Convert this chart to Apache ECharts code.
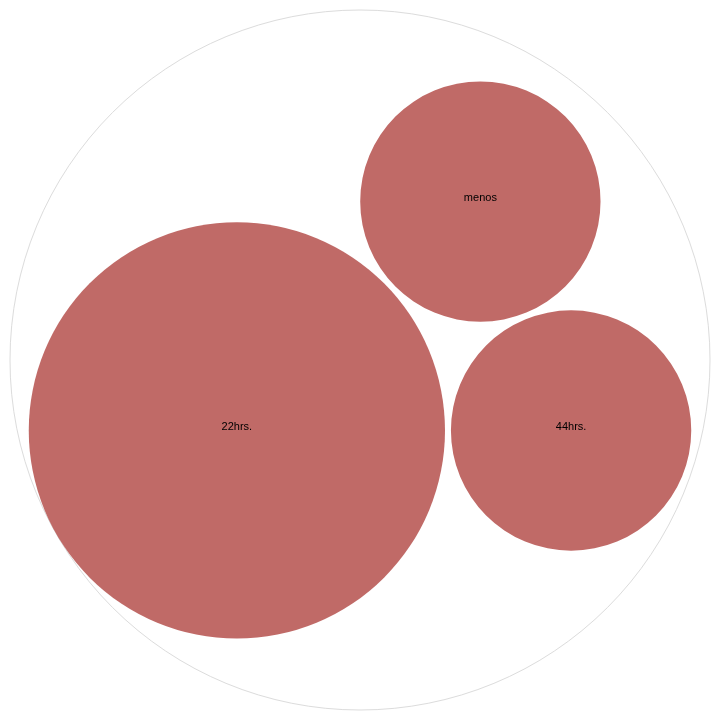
<!DOCTYPE html>
<html>
<head>
<meta charset="utf-8">
<script src="https://cdn.jsdelivr.net/npm/echarts@6/dist/echarts.min.js"></script>
<style>html,body{margin:0;padding:0;background:#fff;}#c{width:720px;height:720px;}</style>
</head>
<body>
<div id="c"></div>
<script>
// ---- data ----
var labels = ['22hrs.', '44hrs.', 'menos'];
var values = [3, 1, 1];

// ---- circle-packing layout (d3 v3 style) computed from the values ----
var SIZE = 700, PADDING = 6;
function packPlace(a, b, c) {
  var db = a.r + c.r, dx = b.x - a.x, dy = b.y - a.y;
  if (db && (dx || dy)) {
    var da = b.r + c.r, dc = dx * dx + dy * dy;
    da *= da; db *= db;
    var x = 0.5 + (db - da) / (2 * dc),
        y = Math.sqrt(Math.max(0, 2 * da * (db + dc) - (db -= dc) * db - da * da)) / (2 * dc);
    c.x = a.x + x * dx + y * dy;
    c.y = a.y + x * dy - y * dx;
  } else { c.x = a.x + db; c.y = a.y; }
}
function packIntersects(a, b) { var dx = b.x - a.x, dy = b.y - a.y, dr = a.r + b.r; return 0.999 * dr * dr > dx * dx + dy * dy; }
function packInsert(a, b) { var c = a._n; a._n = b; b._p = a; b._n = c; c._p = b; }
function packSplice(a, b) { a._n = b; b._p = a; }
function packSiblings(node) {
  var nodes = node.children, n = nodes.length, a, b, c, i, j, k;
  var xMin = Infinity, xMax = -Infinity, yMin = Infinity, yMax = -Infinity;
  function bound(d) {
    xMin = Math.min(d.x - d.r, xMin); xMax = Math.max(d.x + d.r, xMax);
    yMin = Math.min(d.y - d.r, yMin); yMax = Math.max(d.y + d.r, yMax);
  }
  nodes.forEach(function (d) { d._n = d._p = d; });
  a = nodes[0]; a.x = -a.r; a.y = 0; bound(a);
  if (n > 1) {
    b = nodes[1]; b.x = b.r; b.y = 0; bound(b);
    if (n > 2) {
      c = nodes[2]; packPlace(a, b, c); bound(c);
      packInsert(a, c); a._p = c; packInsert(c, b); b = a._n;
      for (i = 3; i < n; i++) {
        packPlace(a, b, c = nodes[i]);
        var isect = 0, s1 = 1, s2 = 1;
        for (j = b._n; j !== b; j = j._n, s1++) { if (packIntersects(j, c)) { isect = 1; break; } }
        if (isect) { for (k = a._p; k !== j._p; k = k._p, s2++) { if (packIntersects(k, c)) break; } }
        if (isect) {
          if (s1 < s2 || (s1 === s2 && b.r < a.r)) packSplice(a, b = j); else packSplice(a = k, b);
          i--;
        } else { packInsert(a, c); b = c; bound(c); }
      }
    }
  }
  var cx = (xMin + xMax) / 2, cy = (yMin + yMax) / 2, cr = 0;
  for (i = 0; i < n; i++) {
    c = nodes[i]; c.x -= cx; c.y -= cy;
    cr = Math.max(cr, c.r + Math.sqrt(c.x * c.x + c.y * c.y));
  }
  node.r = cr;
}
var leaves = labels.map(function (l, i) { return { name: l, value: values[i], r: Math.sqrt(values[i]) }; });
var root = { name: '', children: leaves, x: 0, y: 0 };
packSiblings(root);
var dr = PADDING * (2 * root.r / SIZE) / 2;
leaves.forEach(function (d) { d.r += dr; }); root.r += dr;
packSiblings(root);
leaves.forEach(function (d) { d.r -= dr; }); root.r -= dr;
var kScale = SIZE / (2 * root.r);
root.x = SIZE / 2; root.y = SIZE / 2; root.r *= kScale;
leaves.forEach(function (d) { d.x = root.x + kScale * d.x; d.y = root.y + kScale * d.y; d.r *= kScale; });

var nodeData = [[root.x, root.y, root.r, '', 0]].concat(leaves.map(function (d) { return [d.x, d.y, d.r, d.name, 1]; }));

var chart = echarts.init(document.getElementById('c'), null, { renderer: 'canvas' });
chart.setOption({
  backgroundColor: '#fff',
  animation: false,
  grid: { left: 10, top: 10, width: SIZE, height: SIZE },
  xAxis: { type: 'value', min: 0, max: SIZE, show: false },
  yAxis: { type: 'value', min: 0, max: SIZE, inverse: true, show: false },
  series: [{
    type: 'custom',
    coordinateSystem: 'cartesian2d',
    data: nodeData,
    renderItem: function (params, api) {
      var c = api.coord([api.value(0), api.value(1)]);
      var r = api.size([api.value(2), 0])[0];
      var isLeaf = api.value(4) === 1;
      var children = [{
        type: 'circle',
        shape: { cx: c[0], cy: c[1], r: r },
        style: isLeaf ? { fill: '#c06a67', stroke: null } : { fill: 'rgba(0,0,0,0)', stroke: '#dcdcdc', lineWidth: 1 }
      }];
      if (isLeaf) {
        children.push({
          type: 'text',
          x: c[0], y: c[1] - 4,
          style: { text: nodeData[params.dataIndex][3], fill: '#000', font: '11px "Liberation Sans", Arial, sans-serif', align: 'center', verticalAlign: 'middle' }
        });
      }
      return { type: 'group', children: children };
    }
  }]
});
</script>
</body>
</html>
